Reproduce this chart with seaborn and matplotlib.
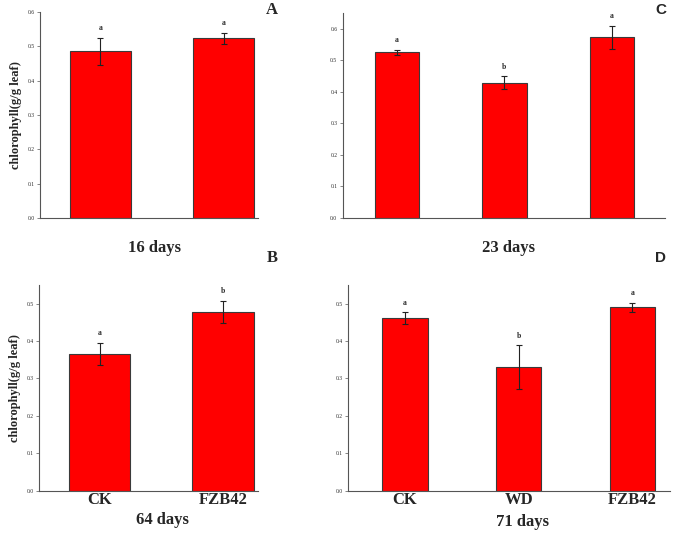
import numpy as np
import pandas as pd
import matplotlib
matplotlib.use("Agg")
import matplotlib.pyplot as plt
import seaborn as sns

# --- data ---
groups_2 = ["CK", "FZB42"]
groups_3 = ["CK", "WD", "FZB42"]

mean_16 = [0.486, 0.524]
err_16 = [0.039, 0.016]
sig_16 = ["a", "a"]

mean_23 = [0.525, 0.429, 0.572]
err_23 = [0.008, 0.020, 0.036]
sig_23 = ["a", "b", "a"]

mean_64 = [0.366, 0.478]
err_64 = [0.029, 0.030]
sig_64 = ["a", "b"]

mean_71 = [0.461, 0.331, 0.490]
err_71 = [0.016, 0.058, 0.012]
sig_71 = ["a", "b", "a"]

sns.set_style("ticks")
plt.rcParams["font.family"] = ["Liberation Serif", "DejaVu Serif"]

fig = plt.figure(figsize=(6.75, 5.33), dpi=100)


def panel(rect, groups, means, errs, sigs, width, xlim, ylim, yticks, show_x):
    ax = fig.add_axes(rect)
    df = pd.DataFrame({"group": groups, "value": means})
    sns.barplot(data=df, x="group", y="value", color="#ff0000", width=width,
                edgecolor="#3a3a3a", linewidth=0.8, saturation=1, ax=ax)
    x = np.arange(len(groups))
    ax.errorbar(x, means, yerr=errs, fmt="none", ecolor="#222222",
                elinewidth=0.8, capsize=2, capthick=0.8)
    for xi, m, e, s in zip(x, means, errs, sigs):
        ax.annotate(s, (xi, m + e), xytext=(0, 4), textcoords="offset points",
                    ha="center", va="bottom", fontsize=5.5, fontweight="bold")
    ax.set_xlim(*xlim)
    ax.set_ylim(*ylim)
    ax.set_yticks(yticks)
    ax.set_yticklabels([f"{t:.1f}" for t in yticks])
    ax.tick_params(axis="y", labelsize=4, length=2, width=0.5, color="#555555", pad=2)
    ax.set_xlabel("")
    ax.set_ylabel("")
    if show_x:
        ax.tick_params(axis="x", labelsize=12, length=0, pad=1)
        for lab in ax.get_xticklabels():
            lab.set_fontweight("bold")
    else:
        ax.set_xticks([])
    for sp in ["top", "right"]:
        ax.spines[sp].set_visible(False)
    for sp in ["left", "bottom"]:
        ax.spines[sp].set_color("#555555")
        ax.spines[sp].set_linewidth(0.8)
    return ax


ax_a = panel([0.0593, 0.591, 0.323, 0.3865], groups_2, mean_16, err_16, sig_16,
             0.5, (-0.49, 1.28), (0, 0.6), np.arange(0, 0.61, 0.1), False)
ax_c = panel([0.508, 0.591, 0.477, 0.385], groups_3, mean_23, err_23, sig_23,
             0.41, (-0.5, 2.49), (0, 0.65), np.arange(0, 0.61, 0.1), False)
ax_b = panel([0.0578, 0.0794, 0.324, 0.386], groups_2, mean_64, err_64, sig_64,
             0.5, (-0.49, 1.28), (0, 0.55), np.arange(0, 0.51, 0.1), True)
ax_d = panel([0.5156, 0.0794, 0.477, 0.386], groups_3, mean_71, err_71, sig_71,
             0.40, (-0.5, 2.33), (0, 0.55), np.arange(0, 0.51, 0.1), True)

for ax in (ax_a, ax_b):
    ax.set_ylabel("chlorophyll(g/g leaf)", fontsize=9, fontweight="bold", labelpad=4)

H = 533.0
W = 675.0
fig.text(155 / W, 1 - 248 / H, "16 days", ha="center", va="center", fontsize=12, fontweight="bold")
fig.text(508 / W, 1 - 248 / H, "23 days", ha="center", va="center", fontsize=12, fontweight="bold")
fig.text(162 / W, 1 - 520 / H, "64 days", ha="center", va="center", fontsize=12, fontweight="bold")
fig.text(523 / W, 1 - 522 / H, "71 days", ha="center", va="center", fontsize=12, fontweight="bold")

fig.text(272 / W, 1 - 10 / H, "A", ha="center", va="center", fontsize=12, fontweight="bold")
fig.text(272 / W, 1 - 258 / H, "B", ha="center", va="center", fontsize=12, fontweight="bold")
fig.text(661 / W, 1 - 10 / H, "C", ha="center", va="center", fontsize=11, fontweight="bold",
         family="Liberation Sans")
fig.text(661 / W, 1 - 258 / H, "D", ha="center", va="center", fontsize=11, fontweight="bold",
         family="Liberation Sans")

fig.savefig("out.png", dpi=100)
